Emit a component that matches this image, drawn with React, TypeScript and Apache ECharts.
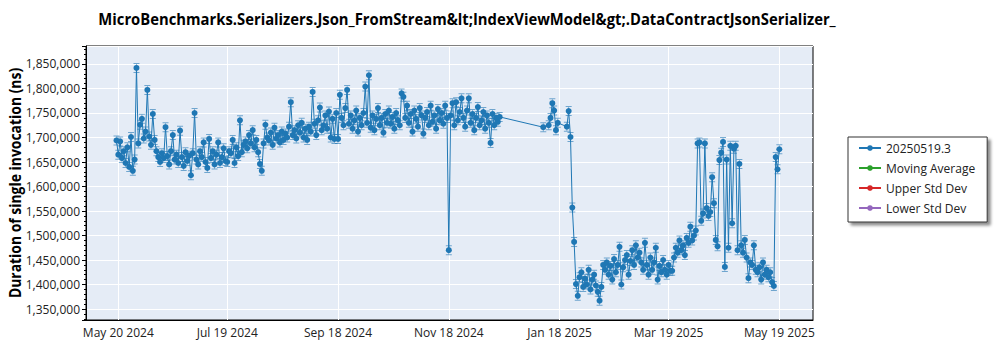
import React, { useEffect, useRef } from 'react';
import * as echarts from 'echarts';

const titleText = 'MicroBenchmarks.Serializers.Json_FromStream&lt;IndexViewModel&gt;.DataContractJsonSerializer_';
const yAxisTitle = 'Duration of single invocation (ns)';
const legendNames = ['20250519.3', 'Moving Average', 'Upper Std Dev', 'Lower Std Dev'];
const seriesColors = ['#1f77b4', '#2ca02c', '#d62728', '#9467bd'];

const xTickDates = ['2024-05-20', '2024-07-19', '2024-09-18', '2024-11-18', '2025-01-18', '2025-03-19', '2025-05-19'];
const xMinDate = '2024-05-02T05:00:00Z';
const xMaxDate = '2025-06-06T13:00:00Z';
const yMin = 1327600;
const yMax = 1886700;

// daily runs (thousands of ns), starting 2024-05-19
const run2024Start = '2024-05-19';
const run2024Values = [
  1694, 1665, 1692, 1658, 1672, 1648, 1680, 1640, 1701, 1632, 1655,
  1842, 1688, 1726, 1738, 1698, 1712, 1797, 1702, 1685, 1748,
  1695, 1672, 1660, 1650, 1668, 1658, 1721, 1662, 1645, 1672,
  1705, 1655, 1665, 1648, 1714, 1660, 1642, 1670, 1652, 1663,
  1623, 1668, 1750, 1655, 1645, 1672, 1660, 1690, 1650, 1638,
  1697, 1658, 1672, 1645, 1665, 1690, 1648, 1660, 1678, 1652,
  1650, 1672, 1668, 1695, 1648, 1680, 1662, 1735, 1670, 1685,
  1692, 1678, 1705, 1688, 1715, 1680, 1695, 1670, 1646, 1632,
  1688, 1726, 1700, 1694, 1710, 1685, 1720, 1698, 1705, 1690,
  1712, 1695, 1708, 1700, 1722, 1772, 1705, 1715, 1698, 1725,
  1710, 1730, 1700, 1718, 1695, 1722, 1712, 1793, 1728, 1705,
  1735, 1761, 1715, 1725, 1745, 1718, 1753, 1700, 1738, 1697,
  1750, 1697, 1787, 1740, 1725, 1760, 1797, 1728, 1745, 1718,
  1735, 1755, 1712, 1740, 1725, 1750, 1804, 1730, 1827, 1720,
  1745, 1715, 1738, 1760, 1725, 1740, 1710, 1748, 1730, 1755,
  1728, 1742, 1718, 1750, 1735, 1725, 1790, 1783, 1740, 1765,
  1730, 1748, 1712, 1755, 1738, 1722, 1760, 1745, 1708, 1740,
  1752, 1725, 1765, 1732, 1745, 1718, 1758, 1735, 1750, 1728,
  1765, 1740, 1470, 1745, 1770, 1725, 1772, 1735, 1752, 1780,
  1740, 1722, 1755, 1780, 1730, 1748, 1715, 1740, 1762, 1725,
  1735, 1752, 1718, 1745, 1730, 1689, 1748, 1725, 1740, 1732, 1742,
];

const earlyJanDates = ['2025-01-09', '2025-01-12', '2025-01-13', '2025-01-14', '2025-01-15', '2025-01-16', '2025-01-17', '2025-01-22', '2025-01-23', '2025-01-24'];
const earlyJanValues = [1721, 1725, 1740, 1770, 1755, 1715, 1730, 1722, 1754, 1701];

// daily runs (thousands of ns), starting 2025-01-25
const run2025Start = '2025-01-25';
const run2025Values = [
  1557, 1487, 1401, 1377, 1415, 1425, 1395, 1412, 1400, 1430,
  1390, 1410, 1420, 1398, 1385, 1367, 1395, 1440, 1430, 1445,
  1420, 1438, 1410, 1452, 1425, 1440, 1477, 1400, 1435, 1450,
  1460, 1420, 1448, 1470, 1440, 1480, 1455, 1465, 1445, 1430,
  1485, 1440, 1420, 1455, 1430, 1445, 1475, 1410, 1438, 1425,
  1450, 1430, 1420, 1440, 1428, 1428, 1455, 1475, 1465, 1490,
  1470, 1480, 1460, 1495, 1485, 1518, 1490, 1500, 1510, 1688,
  1690, 1530, 1545, 1688, 1556, 1540, 1548, 1619, 1566, 1491,
  1478, 1654, 1669, 1691, 1436, 1655, 1475, 1683, 1525, 1677,
  1683, 1470, 1646, 1480, 1465, 1491, 1455, 1413, 1445, 1440,
  1480, 1430, 1425, 1435, 1410, 1445, 1420, 1430, 1415, 1425,
  1405, 1397, 1660, 1635, 1676,
];

const MONTHS = ['Jan', 'Feb', 'Mar', 'Apr', 'May', 'Jun', 'Jul', 'Aug', 'Sep', 'Oct', 'Nov', 'Dec'];
const DAY = 86400000;
const FONT = '"Open Sans", "Noto Sans", sans-serif';

function utc(d: string) {
  return Date.parse(d.length === 10 ? d + 'T00:00:00Z' : d);
}
function daily(start: string, values: number[]) {
  const t0 = utc(start);
  return values.map((v, i) => [t0 + i * DAY, v * 1000]);
}

export default function App() {
  const ref = useRef<HTMLDivElement>(null);
  useEffect(() => {
    if (!ref.current) return;
    const chart = echarts.init(ref.current, undefined, { renderer: 'svg' });
    const mainData = [
      ...daily(run2024Start, run2024Values),
      ...earlyJanDates.map((d, i) => [utc(d), earlyJanValues[i] * 1000]),
      ...daily(run2025Start, run2025Values),
    ];
    const tickValues = xTickDates.map(utc);
    chart.setOption({
      animation: false,
      backgroundColor: '#ffffff',
      grid: {
        left: 86, right: 187, top: 46, bottom: 30,
        show: true, backgroundColor: '#E5ECF6', borderColor: '#000', borderWidth: 1,
      },
      graphic: [
        {
          type: 'text', x: 467, y: 19, scaleX: 0.926,
          style: { text: titleText, fill: '#000', font: `bold 16px ${FONT}`, align: 'center', verticalAlign: 'middle' },
        },
        {
          type: 'text', x: 15, y: 183, rotation: Math.PI / 2, scaleX: 0.87,
          style: { text: yAxisTitle, fill: '#000', font: `bold 16px ${FONT}`, align: 'center', verticalAlign: 'middle' },
        },
      ],
      legend: {
        orient: 'vertical', left: 848, top: 137,
        data: legendNames, selectedMode: false,
        backgroundColor: '#fff', borderColor: '#333', borderWidth: 1,
        padding: [5, 12, 8, 10], itemWidth: 22, itemHeight: 7, itemGap: 8,
        shadowColor: 'rgba(0,0,0,0.45)', shadowBlur: 3, shadowOffsetX: 3, shadowOffsetY: 3,
        textStyle: { fontFamily: FONT, fontSize: 12, color: '#222' },
      },
      xAxis: {
        type: 'value', min: utc(xMinDate), max: utc(xMaxDate),
        axisLine: { show: true, onZero: false, lineStyle: { color: '#000' } },
        axisTick: { show: true, length: 0, customValues: tickValues },
        axisLabel: {
          customValues: tickValues, color: '#222', fontFamily: FONT, fontSize: 12, margin: 6,
          formatter: (v: number) => {
            const d = new Date(v);
            return `${MONTHS[d.getUTCMonth()]} ${d.getUTCDate()} ${d.getUTCFullYear()}`;
          },
        },
        splitLine: { show: true, lineStyle: { color: '#fff', width: 1 } },
      },
      yAxis: {
        type: 'value', min: yMin, max: yMax, splitNumber: 10,
        axisLine: { show: true, lineStyle: { color: '#000' } },
        axisTick: { show: true, length: 4, lineStyle: { color: '#000' } },
        minorTick: { show: true, splitNumber: 5, length: 2, lineStyle: { color: '#000' } },
        axisLabel: {
          color: '#222', fontFamily: FONT, fontSize: 12, margin: 6,
          showMinLabel: false, showMaxLabel: false,
          formatter: (v: number) => v.toLocaleString('en-US'),
        },
        splitLine: { show: true, lineStyle: { color: '#fff', width: 1 } },
      },
      series: [
        {
          name: 'error caps', type: 'line', data: mainData, silent: true, z: 2,
          symbol: 'path://M0 0h6v1h-6z M0 9h6v1h-6z M2.6 1h0.8v8h-0.8z', symbolSize: [6, 10],
          showAllSymbol: true, lineStyle: { width: 0, opacity: 0 },
          itemStyle: { color: seriesColors[0], opacity: 0.6 },
        },
        {
          name: legendNames[0], type: 'line', data: mainData, z: 3,
          symbol: 'circle', symbolSize: 6, showAllSymbol: true,
          color: seriesColors[0], lineStyle: { width: 1, color: seriesColors[0] },
          itemStyle: { color: seriesColors[0] },
        },
        ...legendNames.slice(1).map((n, i) => ({
          name: n, type: 'line', data: [], symbol: 'circle', symbolSize: 6,
          color: seriesColors[i + 1], lineStyle: { width: 1, color: seriesColors[i + 1] },
          itemStyle: { color: seriesColors[i + 1] },
        })),
      ],
    });
    return () => chart.dispose();
  }, []);
  return (
    <div
      ref={ref}
      style={{ position: 'absolute', left: 0, top: 0, width: 1000, height: 350, background: '#fff' }}
    />
  );
}
